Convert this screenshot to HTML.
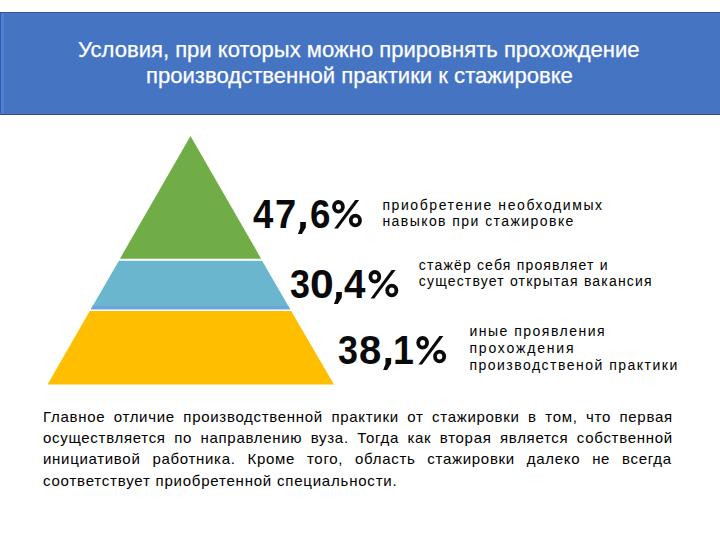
<!DOCTYPE html>
<html>
<head>
<meta charset="utf-8">
<style>
html,body{margin:0;padding:0;}
body{width:720px;height:540px;position:relative;overflow:hidden;background:#ffffff;font-family:"Liberation Sans",sans-serif;}
.hdr{position:absolute;left:0;top:12px;width:720px;height:103px;background:#4574C3;}
.t{position:absolute;white-space:nowrap;transform-origin:0 0;line-height:1;}
.title{color:#fff;-webkit-text-stroke-width:0.25px;}
.pct{font-weight:bold;color:#0a0a0a;}
.desc{color:#000;}
.para{color:#000;}
.just{text-align:justify;text-align-last:justify;white-space:normal;}
svg{position:absolute;left:0;top:0;}
.e{position:absolute;}
</style>
</head>
<body>
<div class="hdr"></div>
<div class="e" style="left:0;top:12px;width:720px;height:1px;background:#2F5391;"></div>
<div class="e" style="left:0;top:13px;width:720px;height:1px;background:#4B78CF;"></div>
<div class="e" style="left:0;top:113px;width:720px;height:1px;background:#5070B6;"></div>
<div class="e" style="left:0;top:114px;width:720px;height:1px;background:#304F86;"></div>
<div class="e" style="left:0;top:13px;width:1px;height:100px;background:#2F5EAE;"></div>
<div class="e" style="left:1px;top:14px;width:3px;height:99px;background:#4F7ED2;"></div>
<div class="t title" id="t1" style="left:78.00px;top:39.40px;font-size:22px;transform:scaleX(1.0022);">Условия, при которых можно прировнять прохождение</div>
<div class="t title" id="t2" style="left:146.20px;top:65.40px;font-size:22px;transform:scaleX(1.0040);">производственной практики к стажировке</div>
<svg width="720" height="540" viewBox="0 0 720 540">
  <polygon points="190.5,136 261.1,258.7 119.9,258.7" fill="#70AD47"/>
  <polygon points="118.9,260.8 262.1,260.8 290.2,309.3 90.8,309.3" fill="#69B6CE"/>
  <polygon points="92.7,306 288.3,306 290.2,309.3 90.8,309.3" fill="#6AA6DA"/>
  <polygon points="89.8,310.9 291.2,310.9 334,384.5 47.5,384.5" fill="#FFBF00"/>
  <defs><g id="pc">
   <ellipse cx="338.45" cy="206.8" rx="4.45" ry="4.8" fill="none" stroke="#0a0a0a" stroke-width="3.8"/>
   <ellipse cx="355.4" cy="220.5" rx="4.6" ry="4.8" fill="none" stroke="#0a0a0a" stroke-width="3.8"/>
   <polygon points="334.2,228.6 337.9,228.6 359.2,200.1 355.2,200.1" fill="#0a0a0a"/>
  </g></defs>
  <use href="#pc"/>
  <use href="#pc" transform="translate(36.4,70)"/>
  <use href="#pc" transform="translate(84.2,136)"/>
  <g fill="#0a0a0a">
  <polygon transform="translate(0,0)" points="300.2,221.9 305.9,221.9 305.8,227.5 301.8,234 297.9,234 300.2,228"/>
  <polygon transform="translate(36,70)" points="300.2,221.9 305.9,221.9 305.8,227.5 301.8,234 297.9,234 300.2,228"/>
  <polygon transform="translate(85.3,136)" points="300.2,221.9 305.9,221.9 305.8,227.5 301.8,234 297.9,234 300.2,228"/>
  </g>
</svg>
<div class="t pct" id="p1_0" style="left:252.80px;top:194.00px;font-size:40px;transform:scaleX(0.9132);">4</div>
<div class="t pct" id="p1_1" style="left:275.20px;top:194.00px;font-size:40px;transform:scaleX(0.9542);">7</div>
<div class="t pct" id="p1_3" style="left:310.00px;top:194.00px;font-size:40px;transform:scaleX(0.9192);">6</div>
<div class="t pct" id="p2_0" style="left:289.60px;top:264.00px;font-size:40px;transform:scaleX(0.8981);">3</div>
<div class="t pct" id="p2_1" style="left:310.00px;top:264.00px;font-size:40px;transform:scaleX(1.0667);">0</div>
<div class="t pct" id="p2_3" style="left:344.10px;top:264.00px;font-size:40px;transform:scaleX(0.9640);">4</div>
<div class="t pct" id="p3_0" style="left:337.60px;top:330.00px;font-size:40px;transform:scaleX(0.8981);">3</div>
<div class="t pct" id="p3_1" style="left:359.20px;top:330.00px;font-size:40px;transform:scaleX(0.9996);">8</div>
<div class="t pct" id="p3_3" style="left:393.40px;top:330.00px;font-size:40px;transform:scaleX(0.9380);">1</div>
<div class="t desc" id="d1" style="left:382.40px;top:197.80px;font-size:14px;letter-spacing:1.583px;">приобретение необходимых</div>
<div class="t desc" id="d2" style="left:382.40px;top:214.40px;font-size:14px;letter-spacing:1.438px;">навыков при стажировке</div>
<div class="t desc" id="d3" style="left:418.80px;top:257.80px;font-size:14px;letter-spacing:1.182px;">стажёр себя проявляет и</div>
<div class="t desc" id="d4" style="left:418.80px;top:274.40px;font-size:14px;letter-spacing:1.178px;">существует открытая вакансия</div>
<div class="t desc" id="d5" style="left:469.40px;top:323.80px;font-size:14px;letter-spacing:1.500px;">иные проявления</div>
<div class="t desc" id="d6" style="left:469.40px;top:340.60px;font-size:14px;letter-spacing:1.820px;">прохождения</div>
<div class="t desc" id="d7" style="left:469.40px;top:357.90px;font-size:14px;letter-spacing:1.487px;">производственой практики</div>
<div class="t para just" id="q1" style="left:43.00px;top:408.70px;font-size:15px;letter-spacing:0.700px;width:629.80px;">Главное отличие производственной практики от стажировки в том, что первая</div>
<div class="t para just" id="q2" style="left:43.00px;top:429.80px;font-size:15px;letter-spacing:0.700px;width:629.80px;">осуществляется по направлению вуза. Тогда как вторая является собственной</div>
<div class="t para just" id="q3" style="left:43.00px;top:451.20px;font-size:15px;letter-spacing:0.700px;width:628.80px;">инициативой работника. Кроме того, область стажировки далеко не всегда</div>
<div class="t para" id="q4" style="left:43.00px;top:473.00px;font-size:15px;letter-spacing:0.788px;">соответствует приобретенной специальности.</div>
</body>
</html>
